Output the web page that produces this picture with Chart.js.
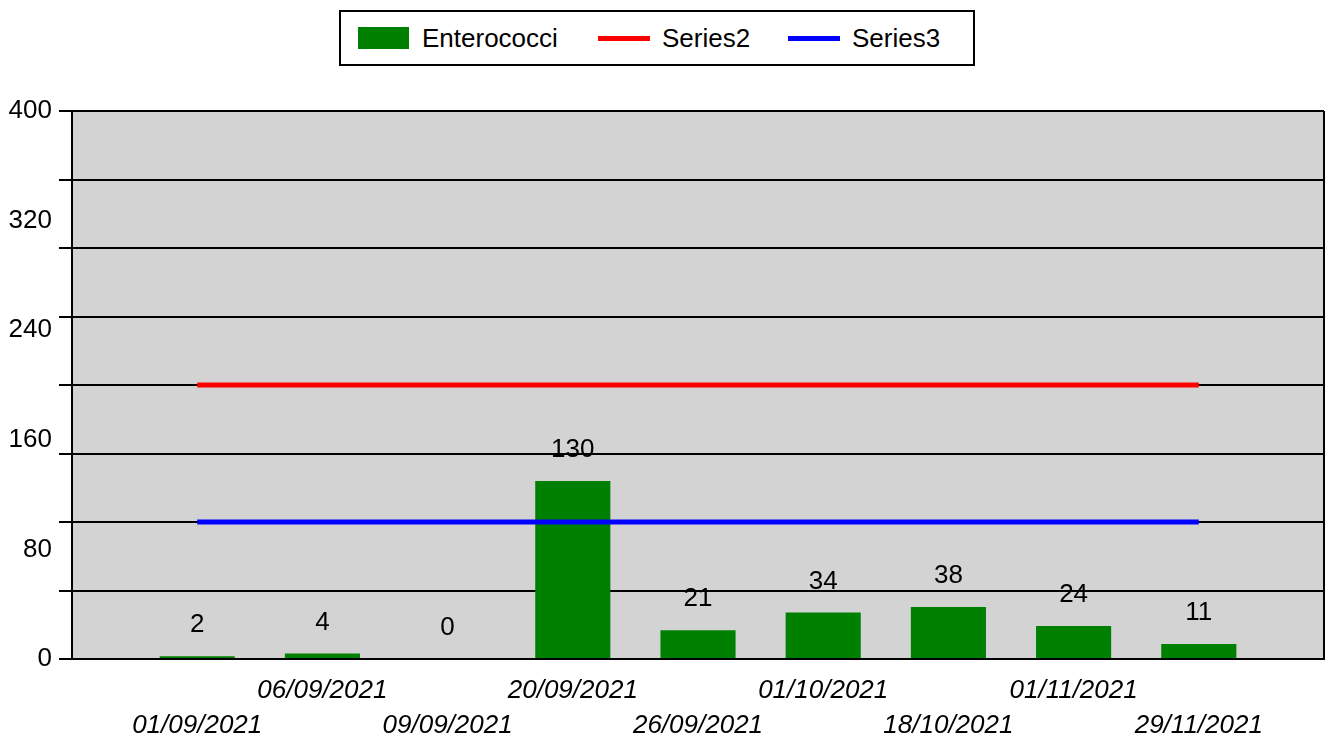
<!DOCTYPE html>
<html>
<head>
<meta charset="utf-8">
<script src="https://cdn.jsdelivr.net/npm/chart.js@4.4.1/dist/chart.umd.min.js"></script>
<style>
  html, body { margin: 0; padding: 0; background: #fff; }
  #wrap { position: relative; width: 1330px; height: 739px; }
  #legend {
    position: absolute; left: 339px; top: 10px; width: 632px; height: 52px;
    border: 2px solid #000; background: #fff; box-sizing: content-box;
    font-family: "Liberation Sans", Arial, sans-serif; font-size: 26px; color: #000;
  }
  .lg-item { position: absolute; top: 0; height: 52px; display: flex; align-items: center; }
  .lg-box  { width: 51px; height: 22px; background: #008000; margin-right: 13px; }
  .lg-line { width: 52px; height: 5px; margin-right: 12px; }
</style>
</head>
<body>
<div id="wrap">
  <canvas id="chart" width="1330" height="739"></canvas>
  <div id="legend">
    <div class="lg-item" style="left:17px"><span class="lg-box"></span><span>Enterococci</span></div>
    <div class="lg-item" style="left:257px"><span class="lg-line" style="background:#ff0000"></span><span>Series2</span></div>
    <div class="lg-item" style="left:447px"><span class="lg-line" style="background:#0000ff"></span><span>Series3</span></div>
  </div>
</div>
<script>
/* ── Données ───────────────────────────────────────────────── */
const DATES       = ['01/09/2021', '06/09/2021', '09/09/2021', '20/09/2021', '26/09/2021',
                     '01/10/2021', '18/10/2021', '01/11/2021', '29/11/2021'];
const ENTEROCOCCI = [2, 4, 0, 130, 21, 34, 38, 24, 11];
const SERIES2     = [200, 200, 200, 200, 200, 200, 200, 200, 200];
const SERIES3     = [100, 100, 100, 100, 100, 100, 100, 100, 100];
const Y_LABELS    = [0, 80, 160, 240, 320, 400];
const Y_GRID      = [0, 50, 100, 150, 200, 250, 300, 350, 400];

const FONT = '"Liberation Sans", Arial, sans-serif';

// une catégorie vide de chaque côté, labels alternés sur deux lignes
const labels = ['', ...DATES.map((d, i) => i % 2 ? [d, ''] : ['', d]), ''];
const pad = arr => [null, ...arr, null];
const yTicks = [...new Set([...Y_GRID, ...Y_LABELS])].sort((a, b) => a - b);

/* ── Plugin : fond gris + bord droit ───────────────────────── */
const plotBg = {
  id: 'plotBg',
  beforeDraw(chart) {
    const { ctx, chartArea: a } = chart;
    ctx.save();
    ctx.fillStyle = '#d3d3d3';
    ctx.fillRect(a.left, a.top, a.right - a.left, a.bottom - a.top);
    ctx.restore();
  },
  afterDraw(chart) {
    const { ctx, chartArea: a } = chart;
    ctx.save();
    ctx.strokeStyle = '#000';
    ctx.lineWidth = 2;
    ctx.beginPath();
    ctx.moveTo(a.right, a.top);
    ctx.lineTo(a.right, a.bottom);
    ctx.stroke();
    ctx.restore();
  },
};

/* ── Plugin : valeurs au-dessus des barres ─────────────────── */
const barValues = {
  id: 'barValues',
  afterDatasetsDraw(chart) {
    const { ctx } = chart;
    const idx = chart.data.datasets.findIndex(d => d.label === 'Enterococci');
    const meta = chart.getDatasetMeta(idx);
    ctx.save();
    ctx.font = `26px ${FONT}`;
    ctx.fillStyle = '#000';
    ctx.textAlign = 'center';
    ctx.textBaseline = 'middle';
    meta.data.forEach((bar, i) => {
      const v = chart.data.datasets[idx].data[i];
      if (v == null) return;
      ctx.fillText(String(v), bar.x, bar.y - 31);
    });
    ctx.restore();
  },
};

new Chart(document.getElementById('chart'), {
  type: 'bar',
  data: {
    labels,
    datasets: [
      { label: 'Enterococci', data: pad(ENTEROCOCCI), backgroundColor: '#008000',
        barPercentage: 0.6, categoryPercentage: 1, order: 2 },
      { type: 'line', label: 'Series2', data: pad(SERIES2), borderColor: '#ff0000',
        borderWidth: 5, pointRadius: 0, fill: false, order: 1 },
      { type: 'line', label: 'Series3', data: pad(SERIES3), borderColor: '#0000ff',
        borderWidth: 5, pointRadius: 0, fill: false, order: 1 },
    ],
  },
  options: {
    responsive: false,
    animation: false,
    devicePixelRatio: 1,
    layout: { padding: { top: 111, right: -10, left: 0, bottom: 0 } },
    plugins: { legend: { display: false }, tooltip: { enabled: false } },
    scales: {
      x: {
        offset: false,
        grid: { display: false },
        border: { color: '#000', width: 2 },
        ticks: {
          autoSkip: false, maxRotation: 0, minRotation: 0, padding: 6,
          color: '#000', font: { family: FONT, size: 26, style: 'italic', lineHeight: 1.35 },
        },
        afterFit: s => { s.height = 80; },
      },
      y: {
        min: 0, max: 400,
        afterBuildTicks: s => { s.ticks = yTicks.map(v => ({ value: v })); },
        afterFit: s => { s.width = 72; },
        border: { color: '#000', width: 2 },
        grid: {
          lineWidth: 2, tickLength: 13,
          color: c => Y_GRID.includes(c.tick.value) ? '#000' : 'rgba(0,0,0,0)',
          tickColor: c => Y_GRID.includes(c.tick.value) ? '#000' : 'rgba(0,0,0,0)',
        },
        ticks: {
          padding: 7, color: '#000', font: { family: FONT, size: 26 },
          callback: v => Y_LABELS.includes(v) ? String(v) : '',
        },
      },
    },
  },
  plugins: [plotBg, barValues],
});
</script>
</body>
</html>
